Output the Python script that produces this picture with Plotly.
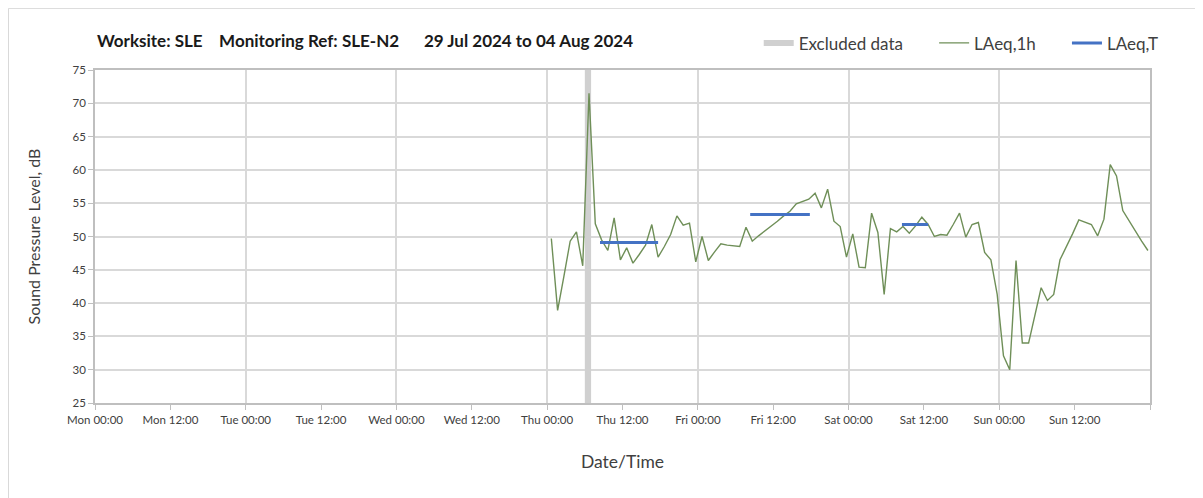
"""Noise monitoring chart - SLE-N2, 29 Jul to 04 Aug 2024"""
import pandas as pd
import plotly.graph_objects as go

# hourly LAeq,1h readings, Thu 01 Aug 00:40 onwards
laeq_1h_start = '2024-08-01 00:40'
laeq_1h = [
    49.7, 38.9, 44.0, 49.3, 50.7, 45.6, 71.5, 51.9, 49.5, 47.9,
    52.8, 46.5, 48.3, 46.0, 47.3, 48.7, 51.8, 46.9, 48.5, 50.3,
    53.1, 51.7, 52.0, 46.2, 50.0, 46.4, 47.7, 48.9, 48.7, 48.6,
    48.5, 51.4, 49.3, 50.1, 50.8, 51.5, 52.3, 53.1, 53.8, 54.9,
    55.3, 55.6, 56.5, 54.3, 57.1, 52.3, 51.5, 46.9, 50.4, 45.4,
    45.3, 53.5, 50.6, 41.3, 51.2, 50.7, 51.5, 50.5, 51.6, 52.9,
    51.8, 50.0, 50.3, 50.2, 51.8, 53.5, 49.9, 51.8, 52.1, 47.6,
    46.5, 41.3, 32.1, 30.0, 46.4, 34.0, 34.0, 38.1, 42.3, 40.4,
    41.3, 46.5, 48.4, 50.4, 52.5, 52.1, 51.8, 50.1, 52.6, 60.8,
    59.1, 53.9, 52.3, 50.9, 49.3, 47.9,
]
laeq_1h_times = pd.date_range(laeq_1h_start, periods=len(laeq_1h), freq='h')

# LAeq,T daytime periods
laeq_t_start = ['2024-08-01 08:25', '2024-08-02 08:20', '2024-08-03 08:30']
laeq_t_end = ['2024-08-01 17:40', '2024-08-02 17:50', '2024-08-03 12:40']
laeq_t = [49.1, 53.3, 51.8]

# excluded period
excluded_start = '2024-08-01 06:00'
excluded_end = '2024-08-01 07:00'

# x ticks every 12 h, last one (Mon 00:00) unlabeled
tick_times = pd.date_range('2024-07-29 00:00', '2024-08-05 00:00', freq='12h')
tick_labels = [
    'Mon 00:00', 'Mon 12:00', 'Tue 00:00', 'Tue 12:00', 'Wed 00:00',
    'Wed 12:00', 'Thu 00:00', 'Thu 12:00', 'Fri 00:00', 'Fri 12:00',
    'Sat 00:00', 'Sat 12:00', 'Sun 00:00', 'Sun 12:00', '',
]

y_min, y_max = 25, 75
x_range = ['2024-07-29 00:00', '2024-08-05 00:00']

FONT = 'Lato'
TEXT = '#404040'
GRID = '#d9d9d9'
AXIS = '#bfbfbf'
PAD = '&nbsp;' * 6

fig = go.Figure()

fig.add_trace(go.Scatter(
    x=[excluded_start, excluded_end, excluded_end, excluded_start, excluded_start],
    y=[y_min, y_min, y_max, y_max, y_min],
    mode='none',
    fill='toself',
    fillcolor='#d0d0d0',
    name='Excluded data' + PAD,
    hoverinfo='skip'
))

fig.add_trace(go.Scatter(
    x=laeq_1h_times,
    y=laeq_1h,
    mode='lines',
    name='LAeq,1h' + PAD,
    line=dict(color='#6F8F58', width=1.4)
))

seg_x, seg_y = [], []
for s, e, v in zip(laeq_t_start, laeq_t_end, laeq_t):
    seg_x += [s, e, None]
    seg_y += [v, v, None]
fig.add_trace(go.Scatter(
    x=seg_x,
    y=seg_y,
    mode='lines',
    name='LAeq,T',
    line=dict(color='#4472C4', width=3)
))

# invisible trace so the daily grid axis is drawn
fig.add_trace(go.Scatter(
    x=x_range, y=[None, None], xaxis='x2', showlegend=False, hoverinfo='skip'
))

# the page body adds 8 px around the figure, margins allow for it
fig.update_layout(
    width=1203,
    height=498,
    margin=dict(l=87, r=61, t=62, b=103, autoexpand=False),
    paper_bgcolor='white',
    plot_bgcolor='white',
    font=dict(family=FONT, color=TEXT, size=11),
    showlegend=True,
    legend=dict(
        orientation='h',
        x=1.013, xanchor='right',
        y=1.08, yanchor='middle',
        font=dict(size=17, color=TEXT),
        itemwidth=30,
        traceorder='normal'
    ),
    xaxis=dict(
        type='date',
        range=x_range,
        tickvals=tick_times,
        ticktext=tick_labels,
        showgrid=False,
        ticks='outside',
        ticklen=5,
        tickcolor=AXIS,
        showline=True,
        linecolor=AXIS,
        linewidth=1.5,
        mirror=True,
        automargin=False,
        tickfont=dict(size=11.5, color=TEXT),
        title=dict(text='Date/Time', font=dict(size=17.5, color=TEXT), standoff=31),
        zeroline=False
    ),
    xaxis2=dict(
        type='date',
        range=x_range,
        overlaying='x',
        dtick=24 * 3600 * 1000,
        tick0='2024-07-29 00:00',
        showgrid=True,
        gridcolor=GRID,
        gridwidth=1.5,
        showticklabels=False,
        ticks='',
        showline=False,
        automargin=False,
        zeroline=False
    ),
    yaxis=dict(
        range=[y_min, y_max],
        dtick=5,
        showgrid=True,
        gridcolor=GRID,
        gridwidth=1.5,
        ticks='outside',
        ticklen=5,
        tickcolor=AXIS,
        showline=True,
        linecolor=AXIS,
        linewidth=1.5,
        mirror=True,
        automargin=False,
        tickfont=dict(size=11.5, color=TEXT),
        title=dict(text='Sound Pressure Level, dB', font=dict(size=16, color=TEXT), standoff=28),
        zeroline=False
    ),
    annotations=[dict(
        text='<b>Worksite: SLE&nbsp;&nbsp;&nbsp;&nbsp;Monitoring Ref: SLE-N2'
             '&nbsp;&nbsp;&nbsp;&nbsp;&nbsp;&nbsp;29 Jul 2024 to 04 Aug 2024</b>',
        xref='paper', yref='paper',
        x=0, y=1.09, xanchor='left', yanchor='middle',
        showarrow=False,
        font=dict(size=17, color='#1a1a1a')
    )],
    shapes=[dict(
        type='rect', xref='paper', yref='paper',
        x0=-0.082, x1=1.2, y0=-0.5, y1=1.185,
        line=dict(color=GRID, width=1)
    )]
)

fig.write_html('out.html')
